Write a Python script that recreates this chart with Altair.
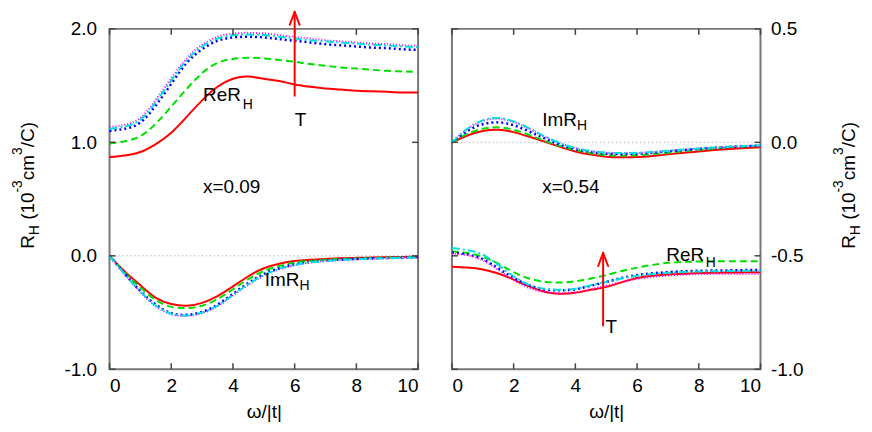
import altair as alt
import pandas as pd

# ---------------- data ----------------
omega = [0, 0.5, 1, 1.5, 2, 2.5, 3, 3.5, 4, 4.5, 5, 5.5, 6, 6.5, 7, 7.5, 8, 8.5, 9, 9.5, 10]
series_names = ["T1", "T2", "T3", "T4", "T5"]

# left panel (x=0.09)
left_re = {
    "T1": [0.87, 0.885, 0.915, 0.985, 1.085, 1.225, 1.37, 1.49, 1.56, 1.58, 1.56, 1.54, 1.51, 1.49, 1.475, 1.465, 1.455, 1.45, 1.445, 1.44, 1.44],
    "T2": [0.99, 1.01, 1.055, 1.165, 1.315, 1.47, 1.61, 1.70, 1.735, 1.745, 1.74, 1.725, 1.71, 1.69, 1.675, 1.66, 1.65, 1.64, 1.63, 1.625, 1.62],
    "T3": [1.10, 1.12, 1.175, 1.325, 1.515, 1.70, 1.82, 1.895, 1.925, 1.93, 1.925, 1.91, 1.895, 1.88, 1.865, 1.855, 1.845, 1.835, 1.83, 1.82, 1.815],
    "T4": [1.12, 1.14, 1.20, 1.355, 1.545, 1.725, 1.845, 1.915, 1.945, 1.95, 1.945, 1.93, 1.915, 1.90, 1.89, 1.88, 1.87, 1.86, 1.855, 1.845, 1.84],
    "T5": [1.135, 1.155, 1.215, 1.375, 1.565, 1.74, 1.86, 1.93, 1.96, 1.965, 1.96, 1.945, 1.93, 1.915, 1.90, 1.89, 1.88, 1.87, 1.865, 1.855, 1.85],
}
left_im = {
    "T1": [0, -0.14, -0.26, -0.37, -0.425, -0.44, -0.415, -0.355, -0.27, -0.18, -0.11, -0.07, -0.045, -0.035, -0.027, -0.022, -0.018, -0.015, -0.012, -0.01, -0.008],
    "T2": [0, -0.15, -0.28, -0.39, -0.45, -0.46, -0.44, -0.38, -0.295, -0.205, -0.135, -0.09, -0.06, -0.045, -0.035, -0.028, -0.023, -0.019, -0.016, -0.013, -0.011],
    "T3": [0, -0.16, -0.31, -0.43, -0.505, -0.52, -0.495, -0.43, -0.335, -0.24, -0.16, -0.11, -0.075, -0.055, -0.042, -0.034, -0.028, -0.023, -0.019, -0.016, -0.013],
    "T4": [0, -0.165, -0.315, -0.44, -0.51, -0.525, -0.50, -0.44, -0.345, -0.25, -0.17, -0.115, -0.08, -0.058, -0.045, -0.036, -0.03, -0.025, -0.02, -0.017, -0.014],
    "T5": [0, -0.165, -0.32, -0.445, -0.515, -0.53, -0.505, -0.445, -0.35, -0.255, -0.175, -0.12, -0.083, -0.06, -0.047, -0.038, -0.031, -0.026, -0.021, -0.018, -0.015],
}
# right panel (x=0.54)
right_im = {
    "T1": [0, 0.03, 0.05, 0.055, 0.045, 0.025, 0.003, -0.02, -0.04, -0.054, -0.063, -0.066, -0.065, -0.06, -0.053, -0.046, -0.04, -0.034, -0.029, -0.025, -0.022],
    "T2": [0, 0.037, 0.06, 0.066, 0.055, 0.033, 0.007, -0.016, -0.034, -0.048, -0.056, -0.058, -0.057, -0.052, -0.046, -0.039, -0.033, -0.027, -0.022, -0.018, -0.015],
    "T3": [0, 0.05, 0.08, 0.088, 0.075, 0.048, 0.017, -0.01, -0.03, -0.043, -0.05, -0.052, -0.05, -0.046, -0.04, -0.034, -0.029, -0.024, -0.02, -0.017, -0.014],
    "T4": [0, 0.06, 0.097, 0.107, 0.092, 0.062, 0.027, -0.003, -0.025, -0.038, -0.045, -0.047, -0.046, -0.042, -0.037, -0.032, -0.027, -0.023, -0.019, -0.016, -0.013],
    "T5": [0, 0.058, 0.094, 0.104, 0.089, 0.06, 0.025, -0.004, -0.026, -0.039, -0.046, -0.048, -0.047, -0.043, -0.038, -0.033, -0.028, -0.024, -0.02, -0.017, -0.014],
}
right_re = {
    "T1": [-0.548, -0.552, -0.56, -0.578, -0.605, -0.635, -0.658, -0.667, -0.663, -0.65, -0.637, -0.617, -0.598, -0.588, -0.582, -0.579, -0.576, -0.575, -0.574, -0.573, -0.573],
    "T2": [-0.48, -0.488, -0.505, -0.535, -0.572, -0.60, -0.614, -0.618, -0.612, -0.60, -0.585, -0.567, -0.552, -0.54, -0.531, -0.527, -0.525, -0.524, -0.524, -0.524, -0.524],
    "T3": [-0.486, -0.494, -0.515, -0.555, -0.597, -0.63, -0.648, -0.652, -0.647, -0.632, -0.615, -0.598, -0.585, -0.577, -0.572, -0.568, -0.566, -0.565, -0.564, -0.563, -0.563],
    "T4": [-0.466, -0.475, -0.495, -0.54, -0.59, -0.628, -0.645, -0.65, -0.645, -0.63, -0.615, -0.60, -0.588, -0.58, -0.575, -0.571, -0.569, -0.568, -0.567, -0.566, -0.566],
    "T5": [-0.49, -0.498, -0.52, -0.562, -0.607, -0.642, -0.66, -0.665, -0.66, -0.647, -0.632, -0.615, -0.602, -0.593, -0.587, -0.583, -0.581, -0.58, -0.58, -0.58, -0.58],
}

x_ticks = [0, 2, 4, 6, 8, 10]
left_y_ticks = [-1.0, 0.0, 1.0, 2.0]
right_y_ticks = [-1.0, -0.5, 0.0, 0.5]

# annotations: (omega, value, text)
left_main_text = [(3.03, 1.36, "ReR"), (6.0, 1.14, "T"), (3.03, 0.553, "x=0.09"), (5.03, -0.263, "ImR")]
left_sub_text = [(4.32, 1.298, "H"), (6.16, -0.298, "H")]
right_main_text = [(2.93, 0.07, "ImR"), (2.93, -0.224, "x=0.54"), (6.95, -0.522, "ReR"), (4.98, -0.838, "T")]
right_sub_text = [(4.05, 0.053, "H"), (8.23, -0.551, "H")]

# arrows: (group, order, omega, value)
left_arrow = [("s", 0, 6.0, 1.41), ("s", 1, 6.0, 2.15),
              ("h", 0, 5.84, 2.036), ("h", 1, 6.0, 2.15), ("h", 2, 6.16, 2.036)]
right_arrow = [("s", 0, 4.9, -0.807), ("s", 1, 4.9, -0.487),
               ("h", 0, 4.74, -0.545), ("h", 1, 4.9, -0.487), ("h", 2, 5.06, -0.545)]

# ---------------- styling ----------------
FONT = "Liberation Sans"
FS = 19
FS_SMALL = 14
W, H = 310, 342
styles = {
    "T1": dict(color="#ff0000", dash=None, width=2),
    "T2": dict(color="#00e000", dash=[7, 4], width=2),
    "T3": dict(color="#0000ff", dash=[2, 3], width=2.5),
    "T5": dict(color="#ff00ff", dash=[1, 2], width=2),
    "T4": dict(color="#00e0e0", dash=[8, 3, 2, 3], width=2),
}
draw_order = ["T1", "T2", "T3", "T5", "T4"]

# approximate Arial/Liberation advance widths (em units) for title layout
ADV = {"R": 0.722, "H": 0.722, " ": 0.278, "(": 0.333, ")": 0.333, "1": 0.556, "0": 0.556,
       "3": 0.556, "-": 0.333, "c": 0.5, "m": 0.833, "/": 0.278, "C": 0.722}
title_pieces = [("R", FS, 0), ("H", FS_SMALL, 5), (" (10", FS, 0), ("-3", FS_SMALL, -12),
                ("cm", FS, 0), ("3", FS_SMALL, -12), ("/C)", FS, 0)]


def long_df(re, im):
    rows = []
    for s in series_names:
        for w, v in zip(omega, re[s]):
            rows.append({"w": w, "v": v, "s": s, "part": "re"})
        for w, v in zip(omega, im[s]):
            rows.append({"w": w, "v": v, "s": s, "part": "im"})
    return pd.DataFrame(rows)


def ylabel_expr():
    return "datum.value < 0 ? '-' + format(-datum.value, '.1f') : format(datum.value, '.1f')"


def panel(re, im, ydom, yticks, orient, main_text, sub_text, arrow, title_x, title_y):
    df = long_df(re, im)
    X = alt.X("w:Q", scale=alt.Scale(domain=[0, 10], nice=False),
              axis=alt.Axis(values=x_ticks, title="ω/|t|", format="d", labelPadding=7,
                            titlePadding=7))
    lab_pad = 13 if orient == "left" else 10
    Y = alt.Y("v:Q", scale=alt.Scale(domain=ydom, nice=False, zero=False),
              axis=alt.Axis(values=yticks, orient=orient, title=None, labelExpr=ylabel_expr(),
                            labelPadding=lab_pad))

    layers = []
    # zero reference line
    layers.append(alt.Chart(pd.DataFrame({"v": [0.0]})).mark_rule(
        color="#999999", strokeDash=[1, 3], strokeWidth=1).encode(y=Y))
    # curves
    for s in draw_order:
        st = styles[s]
        kw = dict(color=st["color"], strokeWidth=st["width"], interpolate="natural")
        if st["dash"]:
            kw["strokeDash"] = st["dash"]
        layers.append(alt.Chart(df[df.s == s]).mark_line(**kw).encode(
            x=X, y=Y, detail="part:N"))
    # inward ticks
    xt = pd.DataFrame({"w": x_ticks})
    yt = pd.DataFrame({"v": yticks})
    tick_kw = dict(color="#444444", strokeWidth=1.5)
    layers.append(alt.Chart(xt).mark_rule(**tick_kw).encode(x=X, y=alt.value(H), y2=alt.value(H - 6)))
    layers.append(alt.Chart(xt).mark_rule(**tick_kw).encode(x=X, y=alt.value(0), y2=alt.value(6)))
    layers.append(alt.Chart(yt).mark_rule(**tick_kw).encode(y=Y, x=alt.value(0), x2=alt.value(6)))
    layers.append(alt.Chart(yt).mark_rule(**tick_kw).encode(y=Y, x=alt.value(W - 6), x2=alt.value(W)))
    # arrow
    adf = pd.DataFrame(arrow, columns=["g", "o", "w", "v"])
    layers.append(alt.Chart(adf).mark_line(color="#ff0000", strokeWidth=2, strokeJoin="round",
                                           strokeCap="round").encode(
        x=X, y=Y, detail="g:N", order="o:Q"))
    # annotations
    mdf = pd.DataFrame(main_text, columns=["w", "v", "t"])
    sdf = pd.DataFrame(sub_text, columns=["w", "v", "t"])
    layers.append(alt.Chart(mdf).mark_text(font=FONT, fontSize=FS, align="left",
                                           baseline="alphabetic", color="black").encode(
        x=X, y=Y, text="t:N"))
    layers.append(alt.Chart(sdf).mark_text(font=FONT, fontSize=FS_SMALL, align="left",
                                           baseline="alphabetic", color="black").encode(
        x=X, y=Y, text="t:N"))
    # rotated axis title built from pieces (leading spaces are advanced manually)
    pos = title_y
    for txt, size, shift in title_pieces:
        stripped = txt.lstrip(" ")
        pos -= (len(txt) - len(stripped)) * ADV[" "] * size
        layers.append(alt.Chart(pd.DataFrame({"t": [stripped]})).mark_text(
            font=FONT, fontSize=size, angle=270, align="left", baseline="alphabetic",
            color="black").encode(text="t:N", x=alt.value(title_x + shift), y=alt.value(pos)))
        pos -= sum(ADV.get(ch, 0.556) for ch in stripped) * size
    return alt.layer(*layers).properties(width=W, height=H)


left = panel(left_re, left_im, [-1.0, 2.0], left_y_ticks, "left",
             left_main_text, left_sub_text, left_arrow, -76, 221)
right = panel(right_re, right_im, [-1.0, 0.5], right_y_ticks, "right",
              right_main_text, right_sub_text, right_arrow, 405, 221)

chart = alt.hconcat(left, right, spacing=22).properties(
    padding={"left": 1, "top": 0, "right": 0, "bottom": 0},
    background="white",
).configure_view(
    stroke="#777777", strokeWidth=2
).configure_axis(
    labelFont=FONT, labelFontSize=FS, labelColor="black",
    titleFont=FONT, titleFontSize=FS, titleFontWeight="normal", titleColor="black",
    domain=False, ticks=False, tickSize=0, grid=False,
)

chart.save("out.html", embed_options={"renderer": "svg", "actions": False})
